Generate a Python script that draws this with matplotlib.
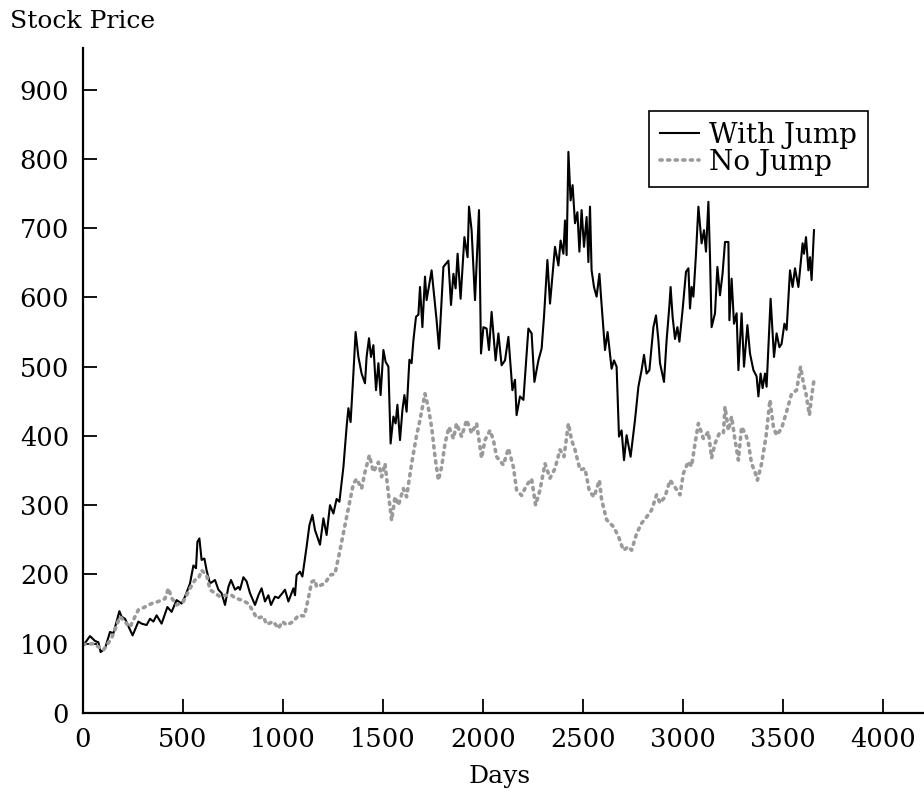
import matplotlib.pyplot as plt
import numpy as np

# values
jump_days = [0, 35, 60, 77, 88, 110, 135, 152, 182, 193, 210, 248, 277, 293, 318, 335, 352, 368,
             393, 422, 443, 468, 493, 510, 535, 552, 565, 572, 582,
             593, 607, 618, 635, 660, 677, 693, 710, 727, 740, 760, 777, 785, 802, 818, 835, 860,
             877, 893, 910, 927, 940, 960, 977, 997, 1010, 1027, 1052, 1060, 1068, 1085, 1097,
             1118, 1132, 1147,
             1160, 1185, 1202, 1218, 1235, 1252, 1268, 1282, 1302, 1318, 1327, 1338, 1352, 1363,
             1377, 1393, 1410, 1418, 1430, 1440, 1452, 1465, 1477, 1488, 1502, 1513, 1527, 1538,
             1552, 1563, 1572, 1585, 1597, 1607, 1618, 1632, 1643, 1652, 1665, 1677, 1685, 1697,
             1710, 1718, 1743, 1768, 1780, 1802, 1827, 1840, 1852, 1863, 1873, 1888, 1907, 1923,
             1930, 1943, 1960, 1980, 1990, 2002, 2018, 2030, 2043, 2063, 2077, 2093, 2110, 2127,
             2147, 2160, 2168, 2185, 2202, 2227, 2243, 2257, 2277,
             2293, 2305, 2322, 2335, 2360, 2377, 2388, 2402, 2410, 2418, 2427, 2438, 2448, 2460,
             2472, 2482, 2493, 2505, 2518, 2527, 2535, 2543, 2555, 2568, 2582, 2590, 2610, 2623,
             2643, 2655, 2668, 2680, 2693, 2705, 2718, 2738, 2760, 2777, 2793, 2805, 2818, 2832,
             2852, 2865, 2877,
             2885, 2905, 2918, 2932, 2938, 2948, 2960, 2972, 2982, 2998, 3015, 3027, 3035, 3043,
             3052, 3065, 3077, 3093, 3105, 3115, 3127, 3135, 3143, 3160, 3172, 3185, 3198, 3210,
             3227, 3232, 3243, 3255, 3268, 3277, 3293, 3305, 3322, 3335, 3352, 3368, 3377, 3388,
             3398, 3410, 3418, 3438, 3455, 3468, 3482, 3493, 3507, 3518, 3535, 3548, 3560, 3577,
             3598, 3605, 3615, 3627, 3635, 3643, 3655]
jump_price = [97, 111, 104, 102, 88, 93, 117, 115, 147, 139, 136, 112, 132, 129, 127, 136, 132, 141,
              129, 153, 146, 163, 158, 168, 187, 213, 209, 247, 252,
              221, 223, 206, 187, 192, 178, 173, 156, 182, 192, 178, 182, 178, 196, 190, 173, 156,
              170, 180, 161, 170, 156, 168, 166, 173, 178, 161, 180, 170, 199, 204, 197,
              240, 271, 286,
              264, 243, 281, 257, 300, 288, 309, 305, 355, 413, 440, 420, 490, 550,
              514, 490, 476, 514, 541, 514, 531, 466, 505, 459, 524, 507, 500, 389,
              428, 418, 445, 394, 437, 459, 435, 510, 505, 538, 572, 575, 615, 557,
              630, 596, 639, 567, 526, 644, 653, 589, 634, 613, 663, 598, 687, 658,
              731, 697, 596, 726, 519, 557, 555, 524, 579, 509, 548, 502, 509, 543,
              466, 481, 430, 457, 452, 555, 548, 478, 509,
              526, 572, 654, 591, 673, 646, 682, 663, 711, 661, 810, 740, 762, 707,
              723, 666, 726, 673, 716, 651, 731, 639, 615, 601, 634, 601, 524, 550,
              497, 509, 500, 399, 408, 365, 401, 370, 423, 471, 495, 517, 490, 495,
              557, 574, 538,
              505, 478, 538, 588, 615, 572, 540, 557, 536, 582, 637, 642, 584, 615,
              601, 663, 731, 678, 697, 666, 738, 658, 557, 577, 644, 603, 635, 680,
              680, 567, 627, 562, 577, 495, 577, 500, 560, 519, 495, 486, 457, 490,
              469, 490, 471, 598, 514, 548, 528, 533, 562, 553, 639, 615, 642, 615,
              678, 663, 687, 639, 658, 625, 697]

nojump_days = [0, 52, 102, 143, 185, 235, 277, 302, 343, 377, 410, 427, 443, 468, 502, 535, 560, 577,
               593, 618, 635, 660, 685, 710, 743, 760, 793, 827, 852, 868, 902, 918, 952, 977,
               997, 1018, 1052, 1077, 1107, 1127, 1143, 1160,
               1168, 1210, 1235, 1260, 1285, 1318, 1352, 1368, 1393, 1410, 1432, 1452, 1477, 1493,
               1510, 1527, 1543, 1560, 1577, 1602, 1618, 1643, 1668, 1685,
               1710, 1727, 1743, 1760, 1777, 1793, 1810, 1830, 1852, 1868, 1893, 1918, 1943, 1968,
               1993, 2010, 2035, 2052, 2068, 2102, 2127, 2152, 2168, 2193, 2218, 2243, 2263,
               2285, 2310, 2335, 2360, 2385, 2405, 2427, 2443, 2460, 2485, 2510, 2532, 2555, 2582,
               2593, 2618, 2652, 2677, 2702, 2727, 2743, 2768, 2793, 2818, 2843, 2868,
               2885, 2910, 2935, 2960, 2985, 3002, 3027, 3043, 3060, 3077, 3102, 3127, 3143, 3160,
               3182, 3202, 3210, 3227, 3243, 3260, 3277, 3293, 3315, 3327, 3343, 3360, 3372, 3393,
               3415, 3435, 3452, 3468, 3493, 3518, 3543, 3568, 3588, 3602, 3615, 3632, 3643, 3655]
nojump_price = [99, 100, 91, 108, 139, 124, 149, 152, 158, 161, 165, 180, 166, 156, 161, 180, 192, 194,
                206, 199, 178, 173, 168, 170, 170, 166, 163, 158, 146, 137, 139, 128, 132, 122,
                132, 127, 132, 141, 140, 166, 189, 192,
                182, 187, 199, 201, 235, 283, 331, 338, 324, 348, 372, 348, 362, 341,
                360, 317, 278, 312, 300, 324, 312, 360, 401, 423,
                461, 440, 413, 370, 336, 355, 389, 413, 396, 418, 399, 423, 404, 418,
                368, 394, 408, 394, 370, 358, 382, 355, 322, 314, 329, 338, 300,
                322, 360, 339, 353, 380, 370, 418, 394, 380, 351, 353, 320, 312, 336,
                308, 279, 269, 255, 235, 240, 235, 259, 274, 283, 293, 315,
                303, 312, 336, 326, 315, 346, 363, 356, 389, 418, 396, 406, 368, 389,
                404, 404, 442, 408, 428, 394, 365, 413, 401, 389, 360, 348, 336, 360,
                399, 452, 413, 401, 411, 435, 461, 466, 500, 476, 461, 430, 457, 481]

x_ticks = [0, 500, 1000, 1500, 2000, 2500, 3000, 3500, 4000]
y_ticks = [0, 100, 200, 300, 400, 500, 600, 700, 800, 900]

plt.rcParams['font.family'] = ['DejaVu Serif']
fs = 18.5

fig = plt.figure(figsize=(9.24, 7.98), dpi=100)
ax = fig.add_axes([83 / 924, 85 / 798, 841 / 924, 665 / 798])

ax.plot(jump_days, jump_price, color='black', lw=1.5, label='With Jump')
ax.plot(nojump_days, nojump_price, color='#9a9a9a', lw=2.6,
        linestyle=(0, (0.6, 1.5)), dash_capstyle='round', label='No Jump')

ax.set_xlim(0, 4205)
ax.set_ylim(0, 960)
ax.set_xticks(x_ticks)
ax.set_yticks(y_ticks)
ax.tick_params(direction='in', length=10, width=1.3, labelsize=fs, pad=10)
for s in ['top', 'right']:
    ax.spines[s].set_visible(False)
for s in ['left', 'bottom']:
    ax.spines[s].set_linewidth(1.6)

# legend box in the reference: x 657-868, y 111-185 px
leg = ax.legend(loc='upper right', bbox_to_anchor=(0.9334, 0.9053), fontsize=20,
                frameon=True, fancybox=False, edgecolor='black', framealpha=1,
                handlelength=1.4, handletextpad=0.35, labelspacing=0.0,
                borderpad=0.4, borderaxespad=0)
leg.get_frame().set_linewidth(1.2)

fig.text(10 / 924, 1 - 28 / 798, 'Stock Price', fontsize=18, va='baseline', ha='left')
fig.text(500 / 924, 1 - 783 / 798, 'Days', fontsize=18, va='baseline', ha='center')

fig.savefig('out.png', dpi=100)
